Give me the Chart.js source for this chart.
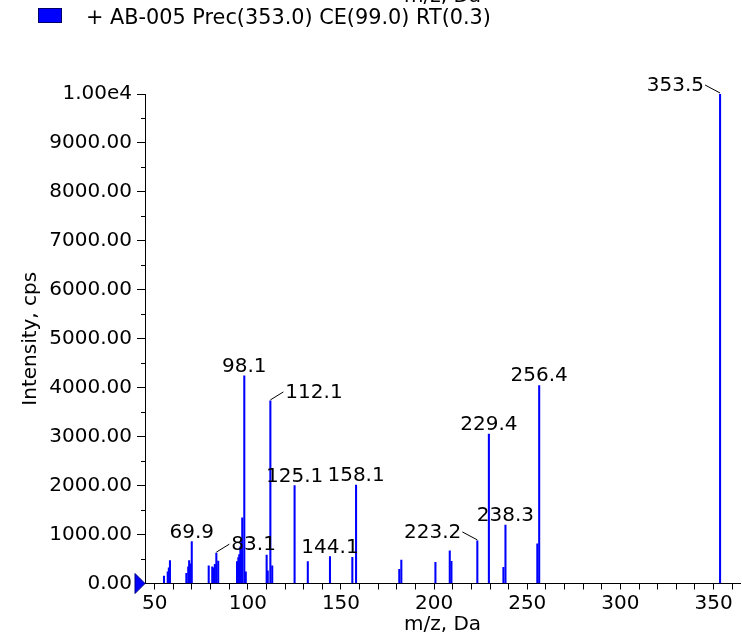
<!DOCTYPE html>
<html>
<head>
<meta charset="utf-8">
<script src="https://cdn.jsdelivr.net/npm/chart.js@4"></script>
<style>
  html, body { margin: 0; padding: 0; background: #fff; }
  canvas { display: block; }
</style>
</head>
<body>
<canvas id="spectrum" width="742" height="643"></canvas>
<script>
// Spectrum data (m/z, intensity in cps)
const mzValues = [55.0, 57.0, 57.6, 58.2, 67.0, 68.0, 68.5, 69.0, 69.9,
    79.0, 80.9, 81.5, 82.3, 83.1, 84.1,
    94.2, 94.9, 95.4, 96.0, 96.5, 97.0, 98.1, 98.9,
    110.1, 110.7, 112.1, 113.1, 125.1, 132.2, 144.1, 156.1, 158.1,
    181.3, 182.4, 200.7, 208.4, 209.3, 223.2, 229.4, 237.2, 238.3,
    255.4, 256.4, 353.5];
const intensities = [150, 240, 320, 470, 210, 340, 470, 400, 855,
    360, 340, 320, 390, 620, 460,
    450, 530, 590, 750, 900, 1340, 4240, 240,
    580, 260, 3730, 360, 2000, 450, 550, 535, 2010,
    290, 480, 435, 665, 455, 870, 3050, 330, 1195,
    810, 4045, 10000];

// annotated peaks
const peakLabels = ['353.5', '98.1', '112.1', '256.4', '229.4', '125.1',
    '158.1', '238.3', '223.2', '69.9', '144.1', '83.1'];

const seriesName = '+ AB-005 Prec(353.0) CE(99.0) RT(0.3)';
const xTitle = 'm/z, Da';
const yTitle = 'Intensity, cps';

// where a label goes relative to its peak (default: centred above)
const labelSide = { '353.5': 'left', '223.2': 'left', '112.1': 'right', '83.1': 'right' };

const FONT = 'DejaVu Sans';
Chart.defaults.font.family = FONT;
Chart.defaults.font.size = 20;
Chart.defaults.color = '#000';

const extras = {
    id: 'extras',
    afterDraw(chart) {
        const ctx = chart.ctx;
        const xs = chart.scales.x, ys = chart.scales.y;
        const area = chart.chartArea;
        ctx.save();

        // clipped duplicate axis title at the very top
        ctx.font = '20px ' + FONT;
        ctx.fillStyle = '#000';
        ctx.textAlign = 'center';
        ctx.textBaseline = 'alphabetic';
        ctx.fillText(xTitle, (area.left + area.right) / 2, 2);

        // legend
        ctx.fillStyle = '#0000ff';
        ctx.fillRect(38, 8, 24, 15);
        ctx.strokeStyle = '#000066';
        ctx.lineWidth = 1;
        ctx.strokeRect(38.5, 8.5, 23, 14);
        ctx.fillStyle = '#000';
        ctx.font = '20.8px ' + FONT;
        ctx.textAlign = 'left';
        ctx.textBaseline = 'middle';
        ctx.fillText(chart.data.datasets[0].label, 86, 19);

        // minor y ticks
        ctx.strokeStyle = '#000';
        ctx.beginPath();
        for (let v = 500; v < 10000; v += 1000) {
            const py = Math.round(ys.getPixelForValue(v)) + 0.5;
            ctx.moveTo(area.left - 4, py);
            ctx.lineTo(area.left, py);
        }
        ctx.stroke();

        // precursor marker at the origin
        const y0 = ys.getPixelForValue(0);
        ctx.fillStyle = '#0000ff';
        ctx.strokeStyle = '#000080';
        ctx.beginPath();
        ctx.moveTo(area.left - 10, y0 - 10);
        ctx.lineTo(area.left - 10, y0 + 10);
        ctx.lineTo(area.left, y0);
        ctx.closePath();
        ctx.fill();
        ctx.stroke();

        // peak labels
        ctx.fillStyle = '#000';
        ctx.strokeStyle = '#000';
        ctx.font = '20px ' + FONT;
        peakLabels.forEach(lbl => {
            const i = mzValues.indexOf(parseFloat(lbl));
            if (i < 0) return;
            const px = xs.getPixelForValue(mzValues[i]);
            const py = ys.getPixelForValue(intensities[i]);
            const side = labelSide[lbl];
            ctx.textBaseline = 'alphabetic';
            if (side === 'left') {
                ctx.textAlign = 'right';
                ctx.fillText(lbl, px - 16, py - 3);
                ctx.beginPath();
                ctx.moveTo(px - 15, py - 9);
                ctx.lineTo(px, py - 1);
                ctx.stroke();
            } else if (side === 'right') {
                ctx.textAlign = 'left';
                ctx.fillText(lbl, px + 15, py - 3);
                ctx.beginPath();
                ctx.moveTo(px, py - 1);
                ctx.lineTo(px + 13, py - 9);
                ctx.stroke();
            } else {
                ctx.textAlign = 'center';
                ctx.fillText(lbl, px, py - 4);
            }
        });
        ctx.restore();
    }
};

new Chart(document.getElementById('spectrum'), {
    type: 'bar',
    data: {
        datasets: [{
            label: seriesName,
            data: mzValues.map((m, i) => ({ x: m, y: intensities[i] })),
            backgroundColor: '#0000ff',
            borderWidth: 0,
            barThickness: 1.4
        }]
    },
    options: {
        responsive: false,
        animation: false,
        devicePixelRatio: 1,
        layout: { padding: { top: 94, right: 2, left: 0, bottom: 0 } },
        plugins: {
            legend: { display: false },
            tooltip: { enabled: false }
        },
        scales: {
            x: {
                type: 'linear',
                offset: false,
                min: 44.8,
                max: 364.2,
                afterFit: s => { s.height = 59.5; },
                border: { color: '#000', width: 1 },
                grid: { drawOnChartArea: false, offset: false, tickLength: 6, color: '#000' },
                ticks: {
                    stepSize: 10,
                    includeBounds: false,
                    autoSkip: false,
                    maxRotation: 0,
                    padding: 2,
                    callback: v => (v % 50 === 0 ? String(v) : '')
                },
                title: { display: true, text: xTitle, padding: { top: 0, bottom: 6 } }
            },
            y: {
                min: 0,
                max: 10000,
                afterFit: s => { s.width = 145; },
                border: { color: '#000', width: 1 },
                grid: {
                    drawOnChartArea: false,
                    tickLength: 8,
                    tickColor: c => (c.tick && c.tick.value % 1000 === 0 ? '#000' : 'rgba(0,0,0,0)')
                },
                ticks: {
                    stepSize: 500,
                    autoSkip: false,
                    padding: 5,
                    callback: v => (v === 10000 ? '1.00e4' : (v % 1000 === 0 ? v.toFixed(2) : ''))
                },
                title: { display: true, text: yTitle, padding: { top: 19, bottom: 0 } }
            }
        }
    },
    plugins: [extras]
});
</script>
</body>
</html>
